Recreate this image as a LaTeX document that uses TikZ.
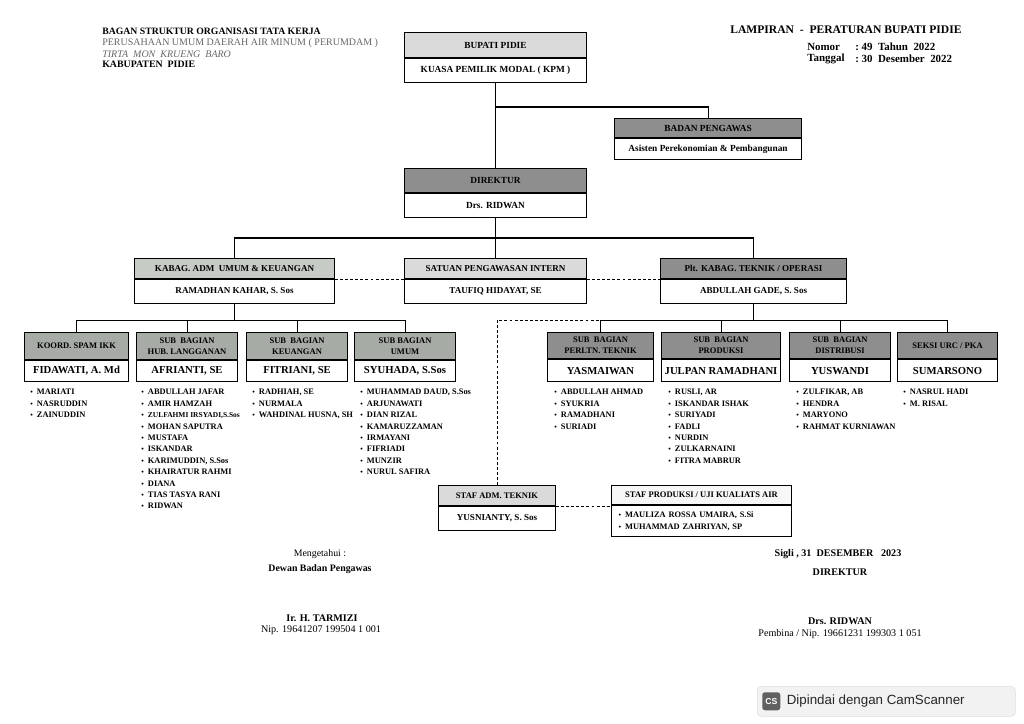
\documentclass[tikz,border=0pt]{standalone}
\usepackage{fontspec}
\setmainfont{Liberation Serif}
\newfontfamily\camfont{Liberation Sans}
\newdimen\pxu \pxu=0.75pt
\definecolor{bandlight}{HTML}{DADADA}
\definecolor{bandgreen}{HTML}{C6CBC6}
\definecolor{banddark}{HTML}{8E8E8E}
\definecolor{bandmid}{HTML}{A6ABA6}
\definecolor{hdgrey}{HTML}{666666}
\newcommand\mainf{\fontsize{7}{8}\selectfont\bfseries}
\newcommand\midf{\fontsize{6.8}{8}\selectfont\bfseries}
\newcommand\ttlf{\fontsize{6.4}{8}\selectfont\bfseries}
\newcommand\nmf{\fontsize{8}{9}\selectfont\bfseries}
\newcommand\lstf{\fontsize{6.3}{8.55}\selectfont\bfseries}
\newcommand\hdf{\fontsize{7.3}{8}\selectfont\bfseries}
\newcommand\rhf{\fontsize{8.2}{9}\selectfont\bfseries}
\newcommand\bl{\makebox[5pt][l]{\fontsize{5.4}{5}\selectfont\textbullet}}
\newcommand\orgbox[9]{%
 \node[band, #7, minimum width=#4\pxu, minimum height=#5\pxu] (#1t) at (#2,#3) {#8};
 \node[body, minimum width=#4\pxu, minimum height=#6\pxu] (#1b) at (#1t.south) {#9};}
\begin{document}
\begin{tikzpicture}[x=0.75pt, y=-0.75pt,
  band/.style={draw, line width=0.8pt, inner sep=0pt, anchor=north west, align=center, font=\ttlf},
  body/.style={draw, line width=0.8pt, inner sep=0pt, anchor=north, align=center, fill=white},
  link/.style={line width=0.8pt},
  dsh/.style={line width=0.8pt, dash pattern=on 2.2pt off 1.6pt},
  lst/.style={anchor=north west, inner sep=0pt, align=left, font=\lstf},
  txt/.style={inner sep=0pt},
]
\useasboundingbox[fill=white] (0,0) rectangle (1024,724);

% header left
\node[txt, anchor=west, font=\hdf] (h1) at (102,31) {BAGAN STRUKTUR ORGANISASI TATA KERJA};
\node[txt, anchor=west, font=\fontsize{7.5}{8}\selectfont, text=hdgrey] (h2) at (102,43) {PERUSAHAAN UMUM DAERAH AIR MINUM ( PERUMDAM )};
\node[txt, anchor=west, font=\fontsize{7.5}{8}\selectfont\itshape, text=hdgrey] (h3) at (102,54) {TIRTA\ \ MON\ \ KRUENG\ \ BARO};
\node[txt, anchor=west, font=\fontsize{7.4}{8}\selectfont\bfseries] (h4) at (102,64) {KABUPATEN\ \ PIDIE};

% header right
\node[txt, anchor=west, font=\fontsize{8.7}{9}\selectfont\bfseries] (r1) at (730,30) {LAMPIRAN\ \ -\ \ PERATURAN BUPATI PIDIE};
\node[txt, anchor=west, font=\rhf] (r2) at (807,47) {Nomor};
\node[txt, anchor=west, font=\rhf] (r2v) at (855,47) {:\ 49\ \ Tahun\ \ 2022};
\node[txt, anchor=west, font=\rhf] (r3) at (807,59) {Tanggal};
\node[txt, anchor=west, font=\rhf] (r3v) at (855,59) {:\ 30\ \ Desember\ \ 2022};

% top boxes
\orgbox{bup}{404}{32}{182}{25}{24}{fill=bandlight, font=\mainf}{BUPATI PIDIE}{\mainf KUASA PEMILIK MODAL ( KPM )}
\orgbox{bad}{614}{118}{187}{19}{21}{fill=banddark, font=\mainf}{BADAN PENGAWAS}{\mainf Asisten Perekonomian \& Pembangunan}
\orgbox{dir}{404}{168}{182}{24}{24}{fill=banddark, font=\mainf}{DIREKTUR}{\mainf Drs. RIDWAN}

% middle row
\orgbox{kab}{134}{258}{200}{20}{24}{fill=bandgreen, font=\midf}{KABAG. ADM\ \ UMUM \& KEUANGAN}{\midf RAMADHAN KAHAR, S. Sos}
\orgbox{spi}{404}{258}{182}{20}{24}{fill=bandlight, font=\midf}{SATUAN PENGAWASAN INTERN}{\midf TAUFIQ HIDAYAT, SE}
\orgbox{tek}{660}{258}{186}{20}{24}{fill=banddark, font=\midf}{Plt. KABAG. TEKNIK / OPERASI}{\midf ABDULLAH GADE, S. Sos}

% left sub row
\orgbox{koo}{24}{332}{104}{27}{21}{fill=bandmid}{KOORD. SPAM IKK}{\nmf FIDAWATI, A. Md}
\orgbox{hub}{136}{332}{101}{27}{21}{fill=bandmid}{SUB\ \ BAGIAN\\HUB. LANGGANAN}{\nmf AFRIANTI, SE}
\orgbox{keu}{246}{332}{101}{27}{21}{fill=bandmid}{SUB\ \ BAGIAN\\KEUANGAN}{\nmf FITRIANI, SE}
\orgbox{umu}{354}{332}{101}{27}{21}{fill=bandmid}{SUB BAGIAN\\UMUM}{\nmf SYUHADA, S.Sos}

% right sub row
\orgbox{per}{547}{332}{106}{26}{22}{fill=banddark}{SUB\ \ BAGIAN\\PERLTN. TEKNIK}{\nmf YASMAIWAN}
\orgbox{pro}{661}{332}{119}{26}{22}{fill=banddark}{SUB\ \ BAGIAN\\PRODUKSI}{\nmf JULPAN RAMADHANI}
\orgbox{dis}{789}{332}{101}{26}{22}{fill=banddark}{SUB\ \ BAGIAN\\DISTRIBUSI}{\nmf YUSWANDI}
\orgbox{sek}{897}{332}{100}{26}{22}{fill=banddark}{SEKSI URC / PKA}{\nmf SUMARSONO}

% staff boxes
\orgbox{sta}{438}{485}{117}{20}{24}{fill=bandlight}{STAF ADM. TEKNIK}{\midf YUSNIANTY, S. Sos}
\node[band, fill=gray!6, minimum width=180\pxu, minimum height=19\pxu] (stpt) at (611,485) {STAF PRODUKSI / UJI KUALIATS AIR};
\node[body, anchor=north, minimum width=180\pxu, minimum height=31\pxu, text width=166\pxu, align=left, font=\lstf] (stpb) at (stpt.south) {\bl MAULIZA ROSSA UMAIRA, S.Si\\\bl MUHAMMAD ZAHRIYAN, SP};

% lists
\node[lst] (kool) at (30,389) {\bl MARIATI\\\bl NASRUDDIN\\\bl ZAINUDDIN};
\node[lst] (hubl) at (141,389) {\bl ABDULLAH JAFAR\\\bl AMIR HAMZAH\\\bl {\fontsize{5.6}{8}\selectfont ZULFAHMI IRSYADI,S.Sos}\\\bl MOHAN SAPUTRA\\\bl MUSTAFA\\\bl ISKANDAR\\\bl KARIMUDDIN, S.Sos\\\bl KHAIRATUR RAHMI\\\bl DIANA\\\bl TIAS TASYA RANI\\\bl RIDWAN};
\node[lst] (keul) at (252,389) {\bl RADHIAH, SE\\\bl NURMALA\\\bl WAHDINAL HUSNA, SH};
\node[lst] (umul) at (360,389) {\bl MUHAMMAD DAUD, S.Sos\\\bl ARJUNAWATI\\\bl DIAN RIZAL\\\bl KAMARUZZAMAN\\\bl IRMAYANI\\\bl FIFRIADI\\\bl MUNZIR\\\bl NURUL SAFIRA};
\node[lst] (perl) at (554,389) {\bl ABDULLAH AHMAD\\\bl SYUKRIA\\\bl RAMADHANI\\\bl SURIADI};
\node[lst] (prol) at (668,389) {\bl RUSLI, AR\\\bl ISKANDAR ISHAK\\\bl SURIYADI\\\bl FADLI\\\bl NURDIN\\\bl ZULKARNAINI\\\bl FITRA MABRUR};
\node[lst] (disl) at (796,389) {\bl ZULFIKAR, AB\\\bl HENDRA\\\bl MARYONO\\\bl RAHMAT KURNIAWAN};
\node[lst] (sekl) at (903,389) {\bl NASRUL HADI\\\bl M. RISAL};

% connectors
\draw[link] (bupb.south) -- (dirt.north);
\coordinate (jb) at (495,107);
\draw[link] (jb) -| (badt.north);
\draw[link] (dirb.south) -- (spit.north);
\coordinate (jm) at (495,238);
\draw[link] (kabt.north) |- (jm) -| (tekt.north);
\draw[dsh] (kabt.south east) -- (spit.south west);
\draw[dsh] (spit.south east) -- (tekt.south west);

\draw[link] (kabb.south) -- ++(0,16) coordinate (lb);
\draw[link] (koot.north) |- (lb) -| (umut.north);
\draw[link] (hubt.north) -- (hubt.north |- lb);
\draw[link] (keut.north) -- (keut.north |- lb);

\draw[link] (tekb.south) -- ++(0,16) coordinate (rb);
\draw[link] (pert.north) |- (rb) -| (sekt.north);
\draw[link] (prot.north) -- (prot.north |- rb);
\draw[link] (dist.north) -- (dist.north |- rb);
\draw[dsh] (stat.north) |- (pert.north |- rb);
\draw[dsh] (stat.south east) -- (stat.south east -| stpt.west);

% signatures
\node[txt, font=\fontsize{7.4}{8}\selectfont] (s1) at (320,554) {Mengetahui :};
\node[txt, font=\fontsize{7.4}{8}\selectfont\bfseries] (s2) at (320,569) {Dewan Badan Pengawas};
\node[txt, font=\fontsize{7.6}{8}\selectfont\bfseries] (s3) at (322,618) {Ir. H. TARMIZI};
\node[txt, font=\fontsize{7.6}{8}\selectfont] (s4) at (321,630) {Nip. 19641207 199504 1 001};

\node[txt, font=\fontsize{7.6}{8}\selectfont\bfseries] (d1) at (838,554) {Sigli , 31\ \ DESEMBER\ \ \ 2023};
\node[txt, font=\fontsize{7.6}{8}\selectfont\bfseries] (d2) at (840,572) {DIREKTUR};
\node[txt, font=\fontsize{7.6}{8}\selectfont\bfseries] (d3) at (840,621) {Drs. RIDWAN};
\node[txt, font=\fontsize{7.6}{8}\selectfont] (d4) at (840,634) {Pembina / Nip. 19661231 199303 1 051};

% watermark
\node[fill=gray!10, draw=gray!25, rounded corners=3pt, minimum width=258\pxu, minimum height=30\pxu, anchor=north west, inner sep=0pt] (cam) at (757,686) {};
\node[fill=gray!75!black, rounded corners=2pt, minimum width=18\pxu, minimum height=18\pxu, inner sep=0pt, text=white, font=\camfont\fontsize{6.5}{7}\selectfont\bfseries, anchor=west] (camic) at ([xshift=5\pxu]cam.west) {CS};
\node[txt, anchor=west, font=\camfont\fontsize{10}{12}\selectfont, text=black!85] (camtx) at ([xshift=6\pxu]camic.east) {Dipindai dengan CamScanner};
\end{tikzpicture}
\end{document}
